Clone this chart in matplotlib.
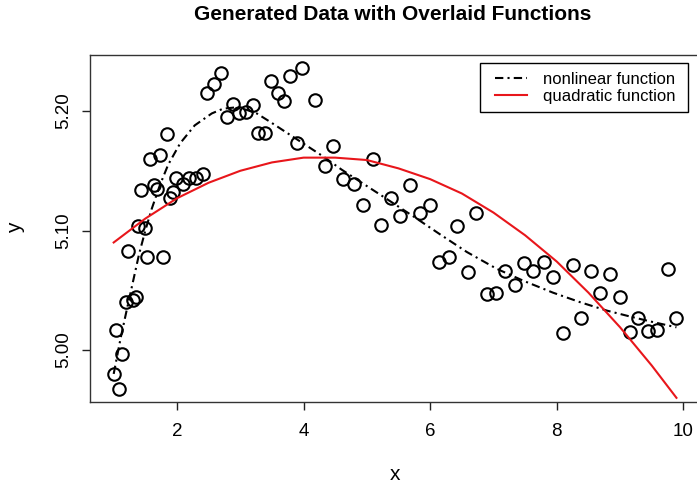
import matplotlib
matplotlib.use("Agg")
import matplotlib.pyplot as plt
import matplotlib.patches as patches

plt.rcParams['font.family'] = ['Liberation Sans', 'DejaVu Sans']

# observed points
x_obs = [1.00, 1.08, 1.04, 1.13, 1.19, 1.30, 1.35, 1.23, 1.39, 1.49,
         1.52, 1.78, 1.43, 1.64, 1.69, 1.58, 1.73, 1.84, 1.89, 1.94,
         1.98, 2.09, 2.19, 2.30, 2.41, 2.48, 2.58, 2.69, 2.79, 2.89,
         2.98, 3.09, 3.20, 3.28, 3.39, 3.49, 3.59, 3.69, 3.79, 3.89,
         3.98, 4.18, 4.34, 4.47, 4.63, 4.79, 4.94, 5.09, 5.23, 5.38,
         5.53, 5.68, 5.84, 5.99, 6.14, 6.29, 6.43, 6.59, 6.73, 6.89,
         7.04, 7.18, 7.34, 7.48, 7.63, 7.79, 7.94, 8.09, 8.25, 8.38,
         8.54, 8.69, 8.84, 9.00, 9.15, 9.29, 9.44, 9.59, 9.75, 9.89]
y_obs = [4.980, 4.967, 5.017, 4.997, 5.040, 5.042, 5.044, 5.083, 5.104, 5.102,
         5.078, 5.078, 5.134, 5.138, 5.135, 5.160, 5.163, 5.181, 5.127, 5.132,
         5.144, 5.139, 5.144, 5.144, 5.147, 5.215, 5.223, 5.232, 5.195, 5.206,
         5.198, 5.199, 5.205, 5.182, 5.182, 5.225, 5.215, 5.208, 5.229, 5.173,
         5.236, 5.209, 5.154, 5.171, 5.143, 5.139, 5.121, 5.160, 5.105, 5.127,
         5.112, 5.138, 5.115, 5.121, 5.074, 5.078, 5.104, 5.065, 5.115, 5.047,
         5.048, 5.066, 5.054, 5.073, 5.066, 5.074, 5.061, 5.014, 5.071, 5.027,
         5.066, 5.048, 5.064, 5.044, 5.015, 5.027, 5.016, 5.017, 5.068, 5.027]

# nonlinear function
nl_x = [1.00, 1.11, 1.20, 1.30, 1.40, 1.50, 1.60, 1.73, 1.86, 2.05,
        2.28, 2.55, 2.73, 2.92, 3.10, 3.26, 3.47, 3.73, 4.02, 4.31,
        4.60, 4.89, 5.21, 5.47, 5.73, 6.15, 6.58, 7.05, 7.47, 7.94,
        8.37, 8.79, 9.16, 9.47, 9.89]
nl_y = [4.980, 5.010, 5.032, 5.056, 5.080, 5.100, 5.118, 5.138, 5.155, 5.173,
        5.188, 5.198, 5.202, 5.203, 5.201, 5.198, 5.191, 5.182, 5.172, 5.162,
        5.151, 5.141, 5.130, 5.121, 5.112, 5.097, 5.082, 5.068, 5.058, 5.048,
        5.040, 5.033, 5.028, 5.024, 5.019]

# quadratic function
quad_x = [1.0, 1.5, 2.0, 2.5, 3.0, 3.5, 4.0, 4.5, 5.0, 5.5,
          6.0, 6.5, 7.0, 7.5, 8.0, 8.5, 9.0, 9.5, 9.89]
quad_y = [5.090, 5.110, 5.127, 5.140, 5.150, 5.157, 5.161, 5.161, 5.159, 5.152,
          5.143, 5.131, 5.115, 5.096, 5.074, 5.048, 5.019, 4.987, 4.960]

x_ticks = [2, 4, 6, 8, 10]
y_ticks = [5.00, 5.10, 5.20]
y_tick_labels = ["5.00", "5.10", "5.20"]

W, H = 697, 486
fig = plt.figure(figsize=(W / 100, H / 100), dpi=100)
ax = fig.add_axes([90 / W, 1 - 402 / H, 610 / W, 347 / H])

ax.plot(x_obs, y_obs, linestyle='none', marker='o', markersize=9,
        markerfacecolor='none', markeredgecolor='black', markeredgewidth=1.5)
ax.plot(nl_x, nl_y, color='black', linewidth=1.5,
        linestyle=(0, (4, 2, 1, 2)), label='nonlinear function')
ax.plot(quad_x, quad_y, color='#e8161b', linewidth=1.5,
        label='quadratic function')

ax.set_xlim(0.626, 10.262)
ax.set_ylim(4.9565, 5.2469)

ax.set_xticks(x_ticks)
ax.set_xticklabels([str(t) for t in x_ticks])
ax.set_yticks(y_ticks)
ax.set_yticklabels(y_tick_labels, rotation=90, va='center')
ax.tick_params(axis='both', direction='out', length=5.8, width=1,
               colors='#222222', labelsize=13.5, labelcolor='black')
ax.tick_params(axis='x', pad=9.5)
ax.tick_params(axis='y', pad=7)
for s in ax.spines.values():
    s.set_color('#333333')
    s.set_linewidth(1)

# legend box drawn like R's legend()
frame = patches.Rectangle((480 / W, 1 - 112 / H), 208 / W, 49 / H,
                          transform=fig.transFigure, facecolor='white',
                          edgecolor='black', linewidth=1, zorder=4)
fig.add_artist(frame)
leg = ax.legend(loc='upper left', bbox_to_anchor=(495 / W, 1 - 71.5 / H),
                bbox_transform=fig.transFigure, borderaxespad=0,
                fontsize=12, handlelength=1.9, handletextpad=1.0,
                labelspacing=0.15, borderpad=0, frameon=False)
leg.set_zorder(5)
fig.add_artist(leg)

fig.text(393 / W, 1 - 15 / H, "Generated Data with Overlaid Functions",
         ha='center', va='center', fontsize=15, fontweight='bold')
fig.text(395 / W, 1 - 474 / H, "x", ha='center', va='center', fontsize=15)
fig.text(16 / W, 1 - 228 / H, "y", ha='center', va='center', fontsize=15,
         rotation=90)

fig.savefig("out.png", dpi=100)
